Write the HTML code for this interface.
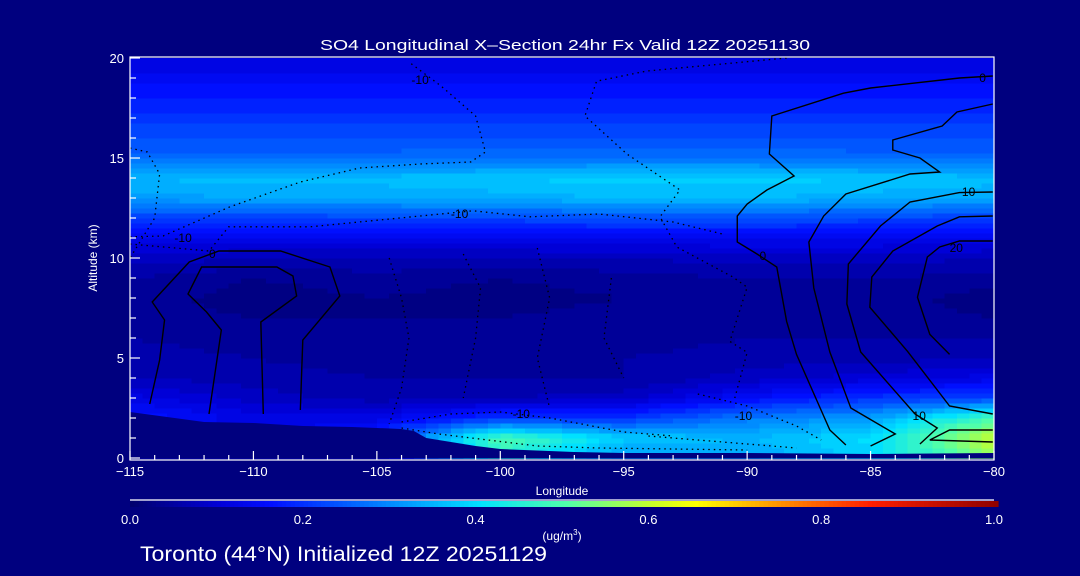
<!DOCTYPE html>
<html><head><meta charset="utf-8"><style>
body{margin:0;background:#00007f;width:1080px;height:576px;overflow:hidden}
svg{display:block}
text{font-family:"Liberation Sans",sans-serif;fill:#fff}
</style></head><body>
<svg id="c" width="1080" height="576" xmlns="http://www.w3.org/2000/svg">
<rect width="1080" height="576" fill="#00007f"/>
<g id="field" shape-rendering="crispEdges"></g>
<g id="terrain"></g>
<g id="contours"></g>
<g id="axes"></g>
<text x="320" y="50" font-size="15" textLength="490" lengthAdjust="spacingAndGlyphs">SO4 Longitudinal X–Section 24hr  Fx Valid 12Z 20251130</text>
<text x="562" y="495" text-anchor="middle" font-size="12">Longitude</text>
<text transform="translate(97,258) rotate(-90)" text-anchor="middle" font-size="12">Altitude (km)</text>
<g id="cbar"></g>
<text x="562" y="540" text-anchor="middle" font-size="12">(ug/m<tspan font-size="8" dy="-5">3</tspan><tspan dy="5">)</tspan></text>
<text x="140" y="561" font-size="21" textLength="407" lengthAdjust="spacingAndGlyphs">Toronto (44°N) Initialized 12Z 20251129</text>
</svg>
<script>
const lonCols=[-115,-110,-105,-100,-95,-90,-85,-80];
const altRows=[0,1,2,3,4,5,6,7,8,9,10,11,12,13,14,15,16,17,18,19,20];
const conc=[
[0.05,0.05,0.05,0.45,0.30,0.32,0.38,0.55],
[0.10,0.10,0.20,0.50,0.38,0.35,0.40,0.60],
[0.17,0.12,0.12,0.20,0.20,0.28,0.32,0.50],
[0.12,0.08,0.06,0.07,0.08,0.15,0.20,0.22],
[0.07,0.06,0.05,0.05,0.05,0.08,0.10,0.12],
[0.06,0.05,0.04,0.04,0.05,0.06,0.06,0.07],
[0.05,0.04,0.03,0.04,0.04,0.05,0.05,0.05],
[0.04,0.03,0.03,0.03,0.04,0.04,0.04,0.03],
[0.04,0.02,0.03,0.02,0.03,0.04,0.04,0.02],
[0.05,0.03,0.04,0.03,0.04,0.05,0.05,0.04],
[0.08,0.07,0.07,0.07,0.07,0.08,0.08,0.07],
[0.12,0.12,0.12,0.12,0.13,0.13,0.13,0.12],
[0.21,0.21,0.22,0.22,0.23,0.23,0.22,0.21],
[0.32,0.33,0.33,0.34,0.35,0.35,0.34,0.33],
[0.35,0.36,0.36,0.37,0.38,0.38,0.37,0.36],
[0.26,0.26,0.26,0.27,0.27,0.27,0.26,0.26],
[0.23,0.23,0.23,0.23,0.23,0.23,0.23,0.23],
[0.20,0.20,0.20,0.20,0.20,0.20,0.20,0.20],
[0.17,0.17,0.17,0.17,0.17,0.17,0.17,0.17],
[0.14,0.14,0.14,0.14,0.14,0.14,0.14,0.14],
[0.11,0.11,0.11,0.11,0.11,0.11,0.11,0.11]];
const terrainLon=[-115,-112,-110,-108,-106,-105,-104,-103.5,-103,-102,-101,-100,-97,-95,-90,-85,-80];
const terrainAlt=[2.3,1.8,1.75,1.6,1.55,1.5,1.45,1.35,1.0,0.8,0.6,0.45,0.3,0.25,0.25,0.2,0.25];
const xTicks=[-115,-110,-105,-100,-95,-90,-85,-80];
const yTicks=[0,5,10,15,20];
const cbTicks=[0.0,0.2,0.4,0.6,0.8,1.0];
const solidContours=[
[[-114.2,2.7],[-113.8,4.9],[-113.6,6.9],[-114.1,7.8],[-112.6,9.8],[-111.4,10.35],[-108.9,10.35],[-106.9,9.55],[-106.5,8.1],[-108,5.9],[-108.1,2.4]],
[[-111.8,2.2],[-111.3,6.4],[-111.9,7.3],[-112.65,8.2],[-112.1,9.55],[-109.05,9.55],[-108.4,9.1],[-108.25,8.1],[-109.7,6.8],[-109.6,2.2]],
[[-80.05,19.1],[-81.4,19.0],[-85.0,18.5],[-86.1,18.24],[-89.0,17.1],[-89.1,15.2],[-88.1,14.1],[-89.2,13.4],[-90.0,12.7],[-90.4,12.1],[-90.4,10.8],[-89.6,10.2],[-88.8,9.55],[-88.4,6.83],[-88.0,5.18],[-86.65,1.4],[-86.0,0.65]],
[[-80.05,17.7],[-81.5,17.3],[-82.1,16.6],[-84.1,15.9],[-84.1,15.4],[-83.0,15.0],[-82.2,14.3],[-83.4,14.2],[-86.0,13.2],[-86.9,12.1],[-87.5,10.8],[-87.3,8.5],[-86.65,5.3],[-85.8,2.5],[-84.0,1.2],[-85.0,0.6]],
[[-80.05,13.3],[-81.4,13.27],[-83.4,12.8],[-84.6,11.6],[-85.9,9.7],[-85.96,7.7],[-85.4,5.3],[-83.2,2.2],[-82.3,1.5],[-83.0,0.7]],
[[-80.05,12.1],[-81.4,12.06],[-82.3,11.6],[-84.1,10.35],[-84.95,9.05],[-85.03,7.54],[-83.5,5.33],[-81.8,2.6],[-80.05,2.2]],
[[-80.05,10.85],[-81.4,10.85],[-82.2,10.55],[-82.7,10.05],[-83.0,8.54],[-83.1,8.04],[-82.6,6.18],[-81.8,5.18]],
[[-80.05,1.4],[-81.8,1.4],[-82.6,0.9],[-80.05,0.8]]];
const dottedContours=[
[[-115,11.06],[-113.66,11.1],[-110.95,12.56],[-108.1,13.8],[-105.7,14.5],[-103.25,14.7],[-101.2,14.8],[-100.6,15.3],[-101.0,17.1],[-102.4,18.6],[-103.7,19.8]],
[[-115,10.7],[-111.8,10.35],[-111,11.56],[-107.7,11.56],[-101.1,12.36],[-98.8,12.06],[-96,12.2],[-93,11.8],[-91,11.2]],
[[-88.4,20],[-94.06,19.35],[-96.1,18.84],[-96.57,17.1],[-94.87,15.2],[-92.72,13.4],[-93.53,12.06],[-92.85,10.55],[-90.58,9.05],[-90.0,8.54],[-90.7,5.83],[-90.0,5.28],[-90.5,3.0]],
[[-115,15.5],[-114.3,15.3],[-113.8,14.2],[-114.0,12.0],[-115,10.0]],
[[-104.5,10.0],[-104.0,8.0],[-103.7,6.0],[-104.0,3.5],[-104.5,1.7]],
[[-101.5,10.2],[-100.8,8.5],[-101.0,6.0],[-101.5,3.0]],
[[-98.5,10.5],[-98.0,8.0],[-98.5,5.0],[-98.0,2.5]],
[[-95.5,9.0],[-95.8,6.0],[-95.0,4.0]],
[[-104,1.8],[-102,2.2],[-100,2.3],[-98,2.0],[-95,1.3],[-93,1.1]],
[[-104,1.5],[-102.5,1.2],[-100.5,0.9],[-98.5,0.6],[-96,0.5],[-90,0.4]],
[[-92,3.2],[-90,2.6],[-88,1.6],[-87,0.9]],
[[-94,1.1],[-91,0.8],[-88,0.5]]];

const X0=130,X1=994,Y0=458,Y1=58;
const xs=l=>X0+(l+115)/35*(X1-X0);
const ys=a=>Y0-a/20*(Y0-Y1);
const NS='http://www.w3.org/2000/svg';
function mk(t,p,a){const e=document.createElementNS(NS,t);for(const k in a)e.setAttribute(k,a[k]);p.appendChild(e);return e;}
const stops=[[0,[0,0,110]],[0.1,[0,0,215]],[0.16,[0,15,255]],[0.3,[0,140,255]],[0.4,[0,225,255]],[0.5,[80,255,170]],[0.6,[200,255,40]],[0.65,[255,255,0]],[0.75,[255,140,0]],[0.85,[255,30,0]],[1,[140,0,0]]];
function cmap(v){v=Math.max(0,Math.min(1,v));for(let i=1;i<stops.length;i++){if(v<=stops[i][0]){const [a,ca]=stops[i-1],[b,cb]=stops[i];const t=(v-a)/(b-a);return 'rgb('+ca.map((c,j)=>Math.round(c+(cb[j]-c)*t)).join(',')+')';}}return 'rgb(140,0,0)';}
function sample(lon,alt){
 let i=Math.min(lonCols.length-2,Math.max(0,Math.floor((lon-lonCols[0])/(lonCols[1]-lonCols[0]))));
 let j=Math.min(altRows.length-2,Math.max(0,Math.floor(alt-altRows[0])));
 const tx=(lon-lonCols[i])/(lonCols[i+1]-lonCols[i]),ty=(alt-altRows[j])/(altRows[j+1]-altRows[j]);
 const v00=conc[j][i],v10=conc[j][i+1],v01=conc[j+1][i],v11=conc[j+1][i+1];
 return (v00*(1-tx)+v10*tx)*(1-ty)+(v01*(1-tx)+v11*tx)*ty;}
const field=document.getElementById('field');
const dl=0.5,da=0.25;
for(let lon=-115;lon<-80;lon+=dl){for(let alt=0;alt<20;alt+=da){
 let v=sample(lon+dl/2,alt+da/2);v=Math.round(v/0.02)*0.02;
 const r=mk('rect',field,{x:xs(lon),y:ys(alt+da),width:xs(lon+dl)-xs(lon)+0.6,height:ys(alt)-ys(alt+da)+0.6,fill:cmap(v)});
 
 
}}
const tg=document.getElementById('terrain');
let tp='M'+xs(-115)+','+ys(0);
terrainLon.forEach((l,i)=>{tp+=' L'+xs(l)+','+ys(terrainAlt[i]);});
tp+=' L'+xs(-80)+','+ys(0)+'Z';
const tr=mk('path',tg,{d:tp,fill:'#00007f'});


const cg=document.getElementById('contours');
function pl(pts){return pts.map(p=>xs(p[0])+','+ys(p[1])).join(' ');}
solidContours.forEach(c=>{const e=mk('polyline',cg,{points:pl(c),fill:'none',stroke:'#000',"stroke-width":1.4});
 
 });
dottedContours.forEach(c=>{const e=mk('polyline',cg,{points:pl(c),fill:'none',stroke:'#000',"stroke-width":1.3,"stroke-dasharray":"1.5 4"});
 
 });
const clabels=[[-102,12.2,'-10'],[-113.2,11,'-10'],[-103.6,18.9,'-10'],[-111.8,10.2,'0'],[-89.5,10.1,'0'],[-80.6,19.0,'0'],[-81.3,13.3,'10'],[-81.8,10.5,'20'],[-90.5,2.1,'-10'],[-83.3,2.1,'10'],[-99.5,2.2,'-10']];
clabels.forEach(c=>{const t=mk('text',cg,{x:xs(c[0]),y:ys(c[1])+4,'font-size':12,style:'fill:#000'});t.textContent=c[2];
 
 });
const ag=document.getElementById('axes');
mk('rect',ag,{x:X0,y:57,width:X1-X0,height:Y0+2-57,fill:'none',stroke:'#fff','stroke-width':1.2});
for(let l=-115;l<=-80;l++){const maj=(l%5===0);mk('line',ag,{x1:xs(l),x2:xs(l),y1:460,y2:460-(maj?9:5),stroke:'#fff','stroke-width':1.2});}
xTicks.forEach(l=>{const t=mk('text',ag,{x:xs(l),y:476,'text-anchor':'middle','font-size':13});t.textContent=(l<0?'−':'')+Math.abs(l);
 
 });
for(let a=0;a<=20;a++){const maj=(a%5===0);mk('line',ag,{x1:X0,x2:X0+(maj?10:6),y1:ys(a),y2:ys(a),stroke:'#fff','stroke-width':1.2});}
yTicks.forEach(a=>{const t=mk('text',ag,{x:124,y:ys(a)+5,'text-anchor':'end','font-size':13});t.textContent=a;
 
 });
const cb=document.getElementById('cbar');
const CB0=130,CB1=998;
for(let i=0;i<200;i++){const v=i/200;mk('rect',cb,{x:CB0+v*(CB1-CB0),y:501,width:(CB1-CB0)/200+0.6,height:6,fill:cmap(v)});}
mk('line',cb,{x1:CB0,x2:CB1-4,y1:500,y2:500,stroke:'#fff','stroke-width':1.2});
cbTicks.forEach(v=>{const t=mk('text',cb,{x:CB0+v*(CB1-CB0-4),y:524,'text-anchor':'middle','font-size':13});t.textContent=v.toFixed(1);
 
 });
</script>
</body></html>
